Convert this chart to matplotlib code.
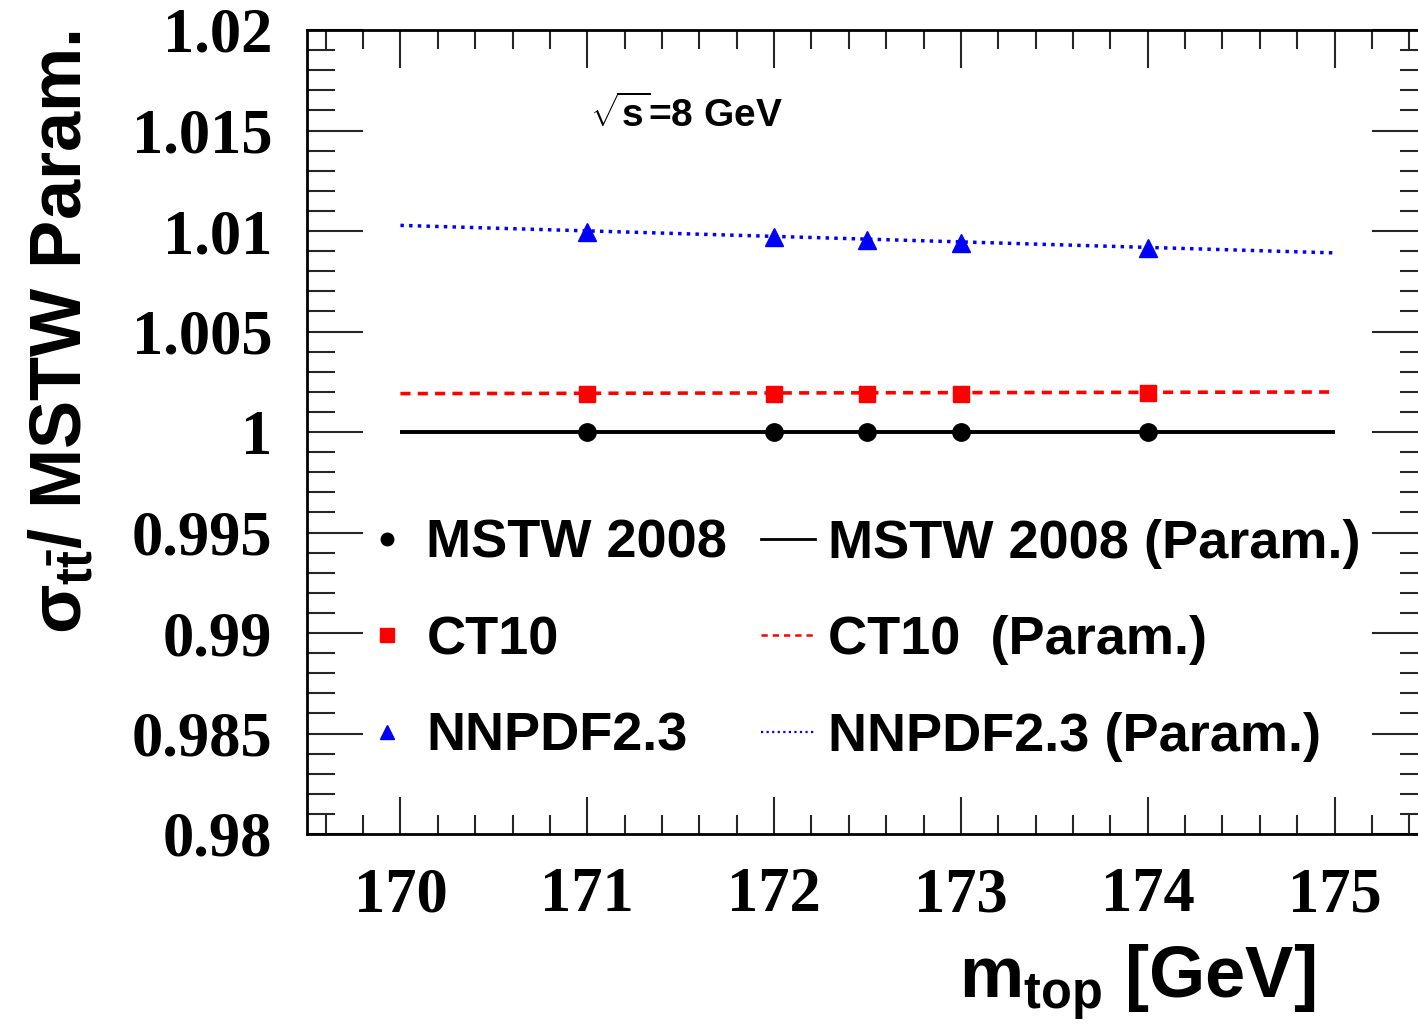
import matplotlib
matplotlib.use("Agg")
import matplotlib.pyplot as plt
from matplotlib.lines import Line2D
from matplotlib.ticker import MultipleLocator, FixedLocator, FixedFormatter

# ratio of sigma_tt to the MSTW parameterisation, sqrt(s) = 8 TeV
mtop = [171.0, 172.0, 172.5, 173.0, 174.0]
mstw = [1.0, 1.0, 1.0, 1.0, 1.0]
ct10 = [1.0019, 1.0019, 1.0019, 1.0019, 1.00195]
nnpdf = [1.00994, 1.00971, 1.00953, 1.00940, 1.00913]

mtop_param = [170.0, 175.0]
mstw_param = [1.0, 1.0]
ct10_param = [1.00191, 1.00199]
nnpdf_param = [1.01028, 1.00891]

yticks = [0.98, 0.985, 0.99, 0.995, 1.0, 1.005, 1.01, 1.015, 1.02]
ytick_labels = ["0.98", "0.985", "0.99", "0.995", "1", "1.005", "1.01", "1.015", "1.02"]
xticks = [170, 171, 172, 173, 174, 175]
xtick_labels = ["170", "171", "172", "173", "174", "175"]

plt.rcParams["mathtext.fontset"] = "custom"
plt.rcParams["mathtext.rm"] = "Liberation Sans:bold"
plt.rcParams["mathtext.it"] = "Liberation Sans:bold"
plt.rcParams["mathtext.bf"] = "Liberation Sans:bold"
plt.rcParams["font.family"] = ["Liberation Sans", "DejaVu Sans"]
plt.rcParams["font.weight"] = "bold"

fig = plt.figure(figsize=(14.18, 10.26), dpi=100)
ax = fig.add_axes([307 / 1418, 1 - 834 / 1026, 1121 / 1418, 804 / 1026])

ax.plot(mtop_param, mstw_param, color="black", lw=2.8, solid_capstyle="butt")
ax.plot(mtop_param, ct10_param, color="red", lw=2.6, ls=(0, (2.8, 2.0)))
ax.plot(mtop_param, nnpdf_param, color="blue", lw=2.5, ls=(0, (1.0, 1.5)))
ax.plot(mtop, mstw, "o", color="black", ms=12.5, ls="none")
ax.plot(mtop, ct10, "s", color="red", ms=12, ls="none")
ax.plot(mtop, nnpdf, "^", color="blue", ms=12.5, ls="none")

ax.set_xlim(169.5, 175.5)
ax.set_ylim(0.98, 1.02)

ax.xaxis.set_major_locator(FixedLocator(xticks))
ax.xaxis.set_major_formatter(FixedFormatter(xtick_labels))
ax.xaxis.set_minor_locator(MultipleLocator(0.2))
ax.yaxis.set_major_locator(FixedLocator(yticks))
ax.yaxis.set_major_formatter(FixedFormatter(ytick_labels))
ax.yaxis.set_minor_locator(MultipleLocator(0.001))

ax.tick_params(axis="both", which="both", direction="in", width=1.5,
               top=True, right=True, color="0.15")
ax.tick_params(axis="y", which="major", length=40, pad=25)
ax.tick_params(axis="y", which="minor", length=20)
ax.tick_params(axis="x", which="major", length=27, pad=24)
ax.tick_params(axis="x", which="minor", length=14)
for lab in ax.get_xticklabels() + ax.get_yticklabels():
    lab.set_family("Liberation Serif")
    lab.set_fontweight("bold")
    lab.set_fontsize(45)
for s in ax.spines.values():
    s.set_linewidth(2.0)

ax.set_xlabel(r"$\mathrm{m}_{\mathrm{top}}$ [GeV]", fontsize=52,
              fontweight="bold", ha="right")
ax.xaxis.set_label_coords(0.899, -0.135)
ax.set_ylabel(r"$\sigma_{\mathrm{t}\bar{\mathrm{t}}}$/ MSTW Param.", fontsize=52,
              fontweight="bold", ha="right")
ax.yaxis.set_label_coords(-0.188, 1.0)

ax.text(0.2525, 0.894, r"$\sqrt{\mathrm{s}}$=8 GeV", transform=ax.transAxes,
        fontsize=28, fontweight="bold", ha="left", va="center")

handles = [
    Line2D([], [], marker="o", color="black", ls="none", ms=9),
    Line2D([], [], marker="s", color="red", ls="none", ms=9.5),
    Line2D([], [], marker="^", color="blue", ls="none", ms=9.5),
    Line2D([], [], color="black", lw=2.0),
    Line2D([], [], color="red", lw=1.8, ls=(0, (2.5, 2.0))),
    Line2D([], [], color="blue", lw=1.6, ls=(0, (1.0, 1.5))),
]
labels = ["MSTW 2008", "CT10", "NNPDF2.3",
          "MSTW 2008 (Param.)", "CT10  (Param.)", "NNPDF2.3 (Param.)"]
ax.legend(handles, labels, ncol=2, loc="upper left", bbox_to_anchor=(0.047, 0.392),
          frameon=False, borderpad=0, borderaxespad=0, handlelength=1.0,
          handletextpad=0.23, columnspacing=0.63, labelspacing=0.86,
          prop={"family": "Liberation Sans", "weight": "bold", "size": 39})

fig.savefig("out.png", dpi=100, facecolor="white")
